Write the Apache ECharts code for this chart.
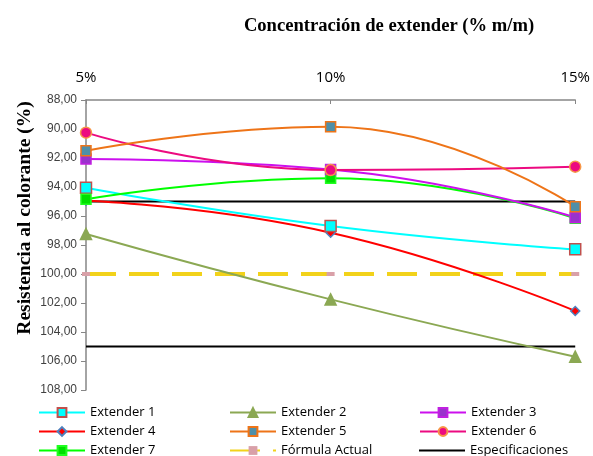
<!DOCTYPE html>
<html>
<head>
<meta charset="utf-8">
<script src="https://cdn.jsdelivr.net/npm/echarts@6/dist/echarts.min.js"></script>
<style>html,body{margin:0;padding:0;background:#fff}#c{width:593px;height:456px}</style>
</head>
<body>
<div id="c"></div>
<script>
var categories = ['5%', '10%', '15%'];
var ext1 = [94.05, 96.69, 98.30];
var ext2 = [97.24, 101.75, 105.70];
var ext3 = [92.07, 92.80, 96.10];
var ext4 = [94.94, 97.15, 102.55];
var ext5 = [91.50, 89.84, 95.36];
var ext6 = [90.25, 92.83, 92.60];
var ext7 = [94.85, 93.40, 96.16];
var formulaActual = [100, 100, 100];
var specLow = [95, 95, 95];
var specHigh = [105, 105, 105];
var yTicks = { min: 88, max: 108, interval: 2 };
var legendGrid = [
  ['Extender 1', 'Extender 2', 'Extender 3'],
  ['Extender 4', 'Extender 5', 'Extender 6'],
  ['Extender 7', 'Fórmula Actual', 'Especificaciones']
];
var xTitle = 'Concentración de extender (% m/m)';
var yTitle = 'Resistencia al colorante (%)';

var chart = echarts.init(document.getElementById('c'));

function lineSeries(name, data, lineColor, symbol, fill, border, size) {
  return {
    name: name, type: 'line', data: data, smooth: 0.5,
    symbol: symbol, symbolSize: size || 10, showSymbol: true,
    lineStyle: { color: lineColor, width: 2 },
    itemStyle: { color: fill, borderColor: border, borderWidth: 1.5 },
    emphasis: { disabled: true },
    z: 3
  };
}

var font = '"Open Sans", "Noto Sans", sans-serif';
var serif = '"Liberation Serif", "Times New Roman", serif';
var legendText = { fontSize: 13, color: '#000', fontFamily: font };
var colLeft = [38, 229, 419];
var rowTop = [406, 425, 444];
var legends = [];
legendGrid.forEach(function (row, r) {
  row.forEach(function (name, c) {
    var item = name;
    if (name === 'Especificaciones') {
      item = { name: name, icon: 'path://M0,0 L46,0 L46,2.2 L0,2.2 Z', itemStyle: { color: '#000' } };
    }
    legends.push({
      left: colLeft[c], top: rowTop[r], padding: 0, orient: 'horizontal',
      itemWidth: 46, itemHeight: 11, itemGap: 0,
      textStyle: legendText, data: [item], selectedMode: false
    });
  });
});

chart.setOption({
  animation: false,
  backgroundColor: '#fff',
  title: {
    text: xTitle,
    left: 384, top: 12, textAlign: 'center',
    textStyle: { fontFamily: serif, fontWeight: 'bold', fontSize: 18.6, color: '#000' }
  },
  graphic: [{
    type: 'text', x: 25, y: 218, rotation: Math.PI / 2,
    style: { text: yTitle, font: 'bold 19.5px ' + serif, fill: '#000', align: 'center', verticalAlign: 'middle' }
  }],
  grid: { left: 86, right: 17, top: 100, bottom: 66, containLabel: false },
  legend: legends,
  xAxis: {
    type: 'category', data: categories, position: 'top', boundaryGap: false,
    axisLine: { lineStyle: { color: '#868686', width: 1.5 } },
    axisTick: { inside: true, length: 4, lineStyle: { color: '#868686' } },
    axisLabel: { fontSize: 15, color: '#000', fontFamily: font, margin: 15 },
    splitLine: { show: false }
  },
  yAxis: {
    type: 'value', inverse: true, min: yTicks.min, max: yTicks.max, interval: yTicks.interval,
    axisLine: { show: true, lineStyle: { color: '#868686', width: 1.5 } },
    axisTick: { show: true, length: 5, lineStyle: { color: '#868686' } },
    axisLabel: { fontSize: 12, color: '#404040', fontFamily: '"Liberation Sans", Arial, sans-serif', margin: 9,
      formatter: function (v) { return v.toFixed(2).replace('.', ','); } },
    splitLine: { show: false }
  },
  series: [
    {
      name: 'Especificaciones', type: 'line', data: specLow, symbol: 'none', showSymbol: false,
      lineStyle: { color: '#000', width: 2 }, itemStyle: { color: '#000' }, z: 2, emphasis: { disabled: true }
    },
    {
      name: 'Especificaciones', type: 'line', data: specHigh, symbol: 'none', showSymbol: false,
      lineStyle: { color: '#000', width: 2 }, itemStyle: { color: '#000' }, z: 2, emphasis: { disabled: true }
    },
    {
      name: 'Fórmula Actual', type: 'line', data: formulaActual, symbol: 'rect', symbolSize: [8, 4],
      lineStyle: { color: '#F2D21A', width: 4, type: [30, 13] },
      itemStyle: { color: '#D9A0A8' }, z: 2, emphasis: { disabled: true }
    },
    lineSeries('Extender 2', ext2, '#8BA853', 'triangle', '#8BA853', '#8BA853', 11),
    lineSeries('Extender 4', ext4, '#FF0000', 'diamond', '#FF0000', '#4F81BD', 9),
    lineSeries('Extender 1', ext1, '#00FFFF', 'rect', '#00FFFF', '#C0504D', 11),
    lineSeries('Extender 7', ext7, '#00FF00', 'rect', '#00E000', '#20FF20', 10),
    lineSeries('Extender 3', ext3, '#CC10EE', 'rect', '#9933CC', '#C020E0', 10),
    lineSeries('Extender 6', ext6, '#EC0A80', 'circle', '#EC0A80', '#F79646', 11),
    lineSeries('Extender 5', ext5, '#EE7418', 'rect', '#4F8FA8', '#EE7418', 10)
  ]
});
</script>
</body>
</html>
